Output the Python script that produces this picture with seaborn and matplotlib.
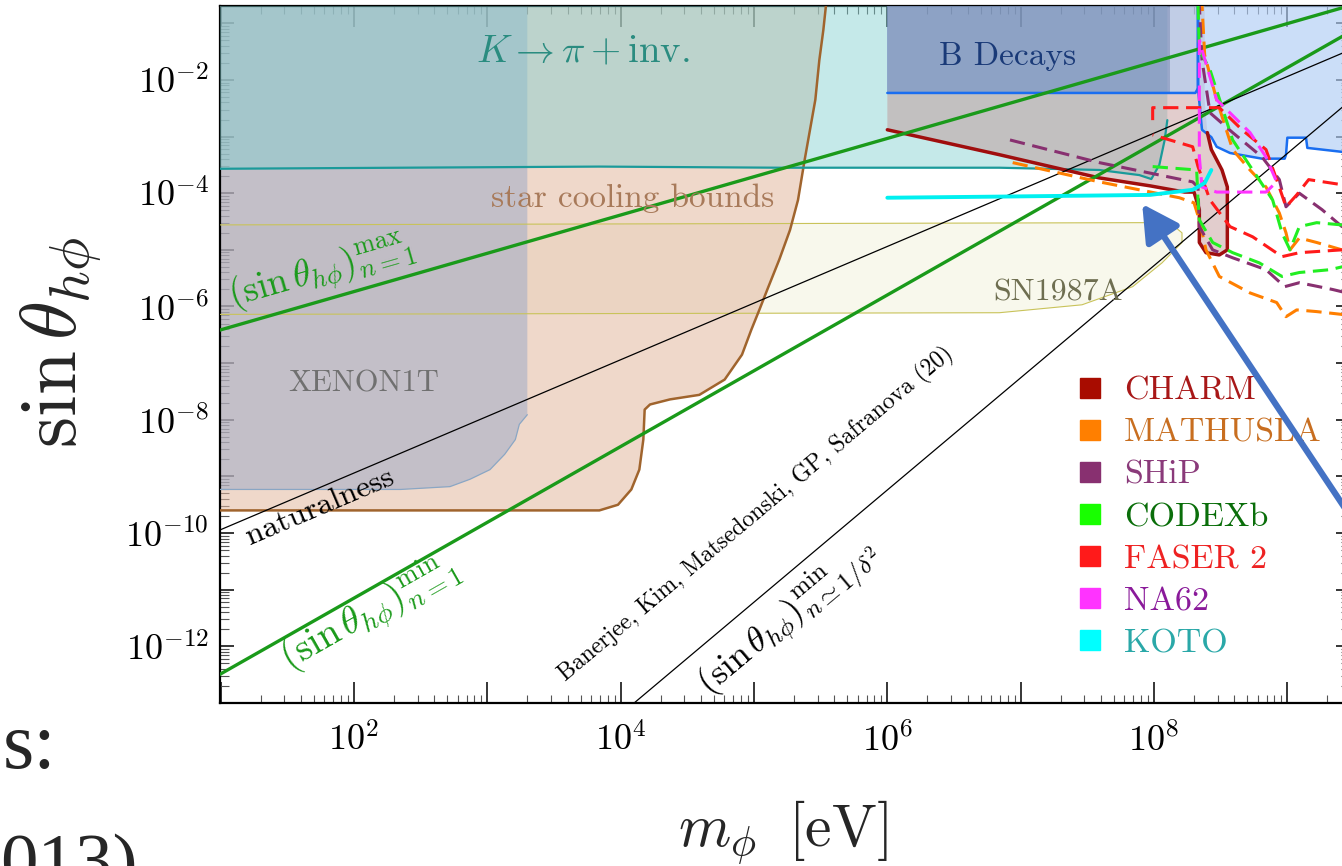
import numpy as np
import matplotlib
matplotlib.use("Agg")
import matplotlib.pyplot as plt
import seaborn as sns
from matplotlib.lines import Line2D
from matplotlib.ticker import LogLocator, FuncFormatter, NullFormatter

# all shapes are stored as log10(m_phi / eV), log10(sin theta)

# K -> pi + inv. (lower edge, then closed over the top)
kpi_lx = [0.9, 2.35, 3.84, 5.19, 6.0, 6.84, 7.59, 7.89, 7.98, 8.04, 8.08, 8.10, 8.10, 0.9]
kpi_ly = [-3.57, -3.55, -3.53, -3.55, -3.55, -3.55, -3.59, -3.68, -3.75, -3.50, -3.06, -2.71, 0, 0]

# XENON1T
xen_lx = [0.9, 2.35, 2.72, 2.87, 3.02, 3.13, 3.21, 3.24, 3.30, 3.30, 0.9]
xen_ly = [-9.23, -9.23, -9.18, -9.05, -8.88, -8.61, -8.35, -8.08, -7.91, 0, 0]

# star cooling bounds
star_lx = [0.9, 3.84, 3.98, 4.08, 4.14, 4.17, 4.18, 4.22, 4.37, 4.59, 4.78, 4.91, 4.98,
           5.04, 5.10, 5.19, 5.27, 5.33, 5.38, 5.42, 5.46, 5.49, 5.52, 5.54, 5.55, 0.9]
star_ly = [-9.60, -9.60, -9.50, -9.23, -8.88, -8.35, -7.82, -7.73, -7.64, -7.56, -7.29, -6.85, -6.41,
           -6.06, -5.70, -5.17, -4.65, -4.12, -3.41, -2.88, -2.35, -1.65, -1.12, -0.68, 0, 0]

# SN1987A
sn_lx = [0.9, 7.89, 8.12, 8.21, 8.21, 8.06, 7.84, 7.46, 6.84, 0.9]
sn_ly = [-4.56, -4.52, -4.52, -4.70, -4.87, -5.23, -5.65, -5.97, -6.11, -6.14]

# B decays
bdark_lx = [6.0, 8.12, 8.12, 6.0]
bdark_ly = [-2.23, -2.23, 0, 0]
blight_lx = [8.12, 8.12, 8.33, 8.36, 8.43, 8.47, 8.57, 8.81, 8.98, 8.99, 9.00, 9.14, 9.15, 9.41, 9.6, 9.6]
blight_ly = [0, -2.23, -2.23, -2.88, -3.01, -3.18, -3.29, -3.39, -3.39, -3.32, -3.02, -3.02, -3.20, -3.27, -3.27, 0]
bline_lx = [6.0, 8.31, 8.33, 8.33, 8.33, 8.36, 8.43, 8.47, 8.57, 8.81, 8.98, 8.99, 9.00, 9.14, 9.15, 9.41, 9.6]
bline_ly = [-2.23, -2.23, -2.15, 0, -2.15, -2.88, -3.01, -3.18, -3.29, -3.39, -3.39, -3.32, -3.02, -3.02, -3.20, -3.27, -3.27]

# CHARM
charm_lx = [6.0, 6.84, 7.59, 7.97, 8.23, 8.30, 8.34, 8.34, 8.39, 8.49, 8.55, 8.55, 8.51, 8.43, 8.40, 8.38, 8.38, 6.0]
charm_ly = [-2.88, -3.32, -3.73, -3.87, -3.98, -3.98, -4.29, -4.87, -5.05, -5.09, -5.00, -3.89, -3.59, -3.23, -2.93, -2.35, 0, 0]

# KOTO
koto_lx = [6.0, 6.84, 7.97, 8.29, 8.38, 8.43]
koto_ly = [-4.08, -4.06, -4.03, -3.94, -3.82, -3.59]

# projected reach (dashed)
math_lx = [6.94, 7.59, 8.19, 8.30, 8.34, 8.39, 8.49, 8.72, 8.92, 8.99, 9.07, 9.22, 9.41, 9.6, 9.6,
           9.41, 9.22, 9.09, 9.02, 8.99, 8.94, 8.84, 8.72, 8.59, 8.47, 8.38, 8.36]
math_ly = [-3.46, -3.80, -4.08, -4.17, -4.47, -5.00, -5.47, -5.76, -5.93, -6.18, -6.06, -6.09, -6.14, -6.14, -5.00,
           -5.00, -4.87, -4.79, -5.00, -4.70, -4.35, -3.89, -3.59, -3.23, -2.35, -1.56, -0.68]
ship_lx = [6.92, 7.59, 8.29, 8.33, 8.34, 8.44, 8.59, 8.84, 8.98, 9.09, 9.34, 9.41, 9.6, 9.6,
           9.41, 9.26, 9.09, 8.99, 8.94, 8.81, 8.59, 8.42, 8.36, 8.34]
ship_ly = [-3.06, -3.46, -3.80, -3.89, -4.59, -5.00, -5.14, -5.35, -5.65, -5.58, -5.70, -5.74, -5.74, -4.59,
           -4.59, -4.29, -4.00, -4.24, -3.76, -3.36, -2.93, -2.58, -1.65, -0.68]
codex_lx = [7.99, 8.32, 8.33, 8.34, 8.44, 8.59, 8.79, 8.96, 9.09, 9.32, 9.41, 9.6, 9.6,
            9.41, 9.22, 9.09, 9.02, 8.96, 8.89, 8.59, 8.42, 8.34, 8.33]
codex_ly = [-3.53, -3.59, -4.12, -4.47, -4.87, -5.05, -5.23, -5.47, -5.40, -5.35, -5.30, -5.30, -4.56,
            -4.56, -4.52, -4.59, -5.00, -4.70, -4.12, -3.06, -1.82, -1.47, -0.68]
faser_lx = [7.99, 7.99, 8.49, 8.66, 8.84, 8.92, 8.99, 9.07, 9.16, 9.41, 9.6, 9.6,
            9.41, 9.09, 8.96, 8.74, 8.57, 8.42, 8.33, 8.29, 7.99]
faser_ly = [-2.71, -2.49, -2.49, -2.88, -3.23, -3.76, -4.24, -4.03, -3.76, -3.85, -3.85, -5.00,
            -5.00, -5.05, -5.12, -4.77, -4.59, -4.12, -3.53, -3.18, -2.97]
na62_lx = [8.34, 8.34, 8.36, 8.47, 8.84, 8.92, 8.84, 8.72, 8.47, 8.36, 8.34]
na62_ly = [-1.29, -3.36, -3.89, -3.98, -3.98, -3.80, -3.36, -2.93, -2.35, -1.47, -1.29]

# theory lines (end points)
maxn1_lx, maxn1_ly = [0.9, 9.6], [-6.48, -0.60]
minn1_lx, minn1_ly = [0.9, 9.6], [-12.62, -0.98]
nat_lx, nat_ly = [0.9, 9.6], [-10.04, -1.34]
delta_lx, delta_ly = [4.0, 9.6], [-13.2, -2.11]

leg_names = ["CHARM", "MATHUSLA", "SHiP", "CODEXb", "FASER 2", "NA62", "KOTO"]
leg_marker = ["#a80c00", "#ff7f00", "#883070", "#18ff00", "#ff1a1a", "#ff33ff", "#00ffff"]
leg_text = ["#a81818", "#c86e20", "#8a3a7a", "#0a6e0a", "#ee2222", "#8a1a9a", "#2aa8a8"]


def P(a):
    return 10.0 ** np.asarray(a, dtype=float)


sns.set_theme(style="ticks")
plt.rcParams["font.family"] = ["cmr10", "DejaVu Serif"]
plt.rcParams["mathtext.fontset"] = "cm"
plt.rcParams["axes.formatter.use_mathtext"] = True

fig = plt.figure(figsize=(13.42, 8.66), dpi=100)
ax = fig.add_axes([220 / 1342, 1 - 703 / 866, 1130 / 1342, 697 / 866])
ax.set_xscale("log")
ax.set_yscale("log")

# filled regions
ax.fill(P(sn_lx), P(sn_ly), fc="#f8f8ec", lw=0, zorder=0.5)
ax.fill(P(star_lx), P(star_ly), fc="#e2b8a0", alpha=0.55, lw=0, zorder=1)
ax.fill(P(xen_lx), P(xen_ly), fc="#98a8c8", alpha=0.5, lw=0, zorder=2)
ax.fill(P(kpi_lx), P(kpi_ly), fc="#7fcfcf", alpha=0.45, lw=0, zorder=3)
ax.fill(P(charm_lx), P(charm_ly), fc="#c09090", alpha=0.45, lw=0, zorder=3)
ax.fill(P(bdark_lx), P(bdark_ly), fc="#7092c8", alpha=0.64, lw=0, zorder=4)
ax.fill(P(blight_lx), P(blight_ly), fc="#b0cdf5", alpha=0.65, lw=0, zorder=4)

# boundaries
sns.lineplot(x=P(sn_lx + sn_lx[:1]), y=P(sn_ly + sn_ly[:1]), sort=False, estimator=None, color="#c9c35a", lw=0.8, ax=ax, zorder=5)
sns.lineplot(x=P(star_lx[:-2]), y=P(star_ly[:-2]), sort=False, estimator=None, color="#a0642d", lw=1.8, ax=ax, zorder=5)
sns.lineplot(x=P(xen_lx[:9]), y=P(xen_ly[:9]), sort=False, estimator=None, color="#8aa6c4", lw=0.9, ax=ax, zorder=5)
sns.lineplot(x=P(kpi_lx[:12]), y=P(kpi_ly[:12]), sort=False, estimator=None, color="#1a9a9a", lw=1.6, ax=ax, zorder=5)
sns.lineplot(x=P(bline_lx), y=P(bline_ly), sort=False, estimator=None, color="#1a6ef0", lw=1.8, ax=ax, zorder=6)
sns.lineplot(x=P(charm_lx[:15]), y=P(charm_ly[:15]), sort=False, estimator=None, color="#a00e0e", lw=2.5, ax=ax, zorder=6)

# theory lines
for lx, ly, c, w in [(maxn1_lx, maxn1_ly, "#1a9a1a", 2.4), (minn1_lx, minn1_ly, "#1a9a1a", 2.4),
                     (nat_lx, nat_ly, "black", 0.9), (delta_lx, delta_ly, "black", 0.9)]:
    sns.lineplot(x=P(lx), y=P(ly), sort=False, estimator=None, color=c, lw=w, ax=ax, zorder=7)

# dashed sensitivity curves
dash = (0, (5, 2.5))
for lx, ly, c in [(math_lx, math_ly, "#ff7f00"), (ship_lx, ship_ly, "#883070"),
                  (codex_lx, codex_ly, "#22ee22"), (faser_lx, faser_ly, "#ff1a1a"),
                  (na62_lx, na62_ly, "#ff33ff")]:
    ax.plot(P(lx), P(ly), color=c, lw=2.2, linestyle=dash, zorder=8)

sns.lineplot(x=P(koto_lx), y=P(koto_ly), sort=False, estimator=None, color="#00f0f0", lw=2.8, ax=ax, zorder=9)

# arrow
ax.annotate("", xy=(10**7.90, 10**-4.15), xytext=(10**9.84, 10**-11.0),
            arrowprops=dict(arrowstyle="-|>,head_length=1.1,head_width=0.6", mutation_scale=20,
                            color="#4472c4", lw=4.5), annotation_clip=False, zorder=10)

# labels on the plot
ax.text(10**3.72, 10**-1.51, r"$K \rightarrow \pi + \mathrm{inv.}$", color="#2a8c80", fontsize=28, ha="center", va="center", zorder=11)
ax.text(10**6.90, 10**-1.59, "B Decays", color="#1a3a78", fontsize=24, ha="center", va="center", zorder=11)
ax.text(10**4.09, 10**-4.08, "star cooling bounds", color="#a87a5a", fontsize=24, ha="center", va="center", zorder=11)
ax.text(10**7.28, 10**-5.76, "SN1987A", color="#6e6e50", fontsize=23, ha="center", va="center", zorder=11)
ax.text(10**2.07, 10**-7.36, "XENON1T", color="#707070", fontsize=22, ha="center", va="center", zorder=11)
ax.text(10**1.745, 10**-9.53, "naturalness", color="black", fontsize=23, rotation=23,
        ha="center", va="center", rotation_mode="anchor", zorder=11)
ax.text(10**1.76, 10**-5.40, r"$(\sin\theta_{h\phi})^{\rm max}_{n=1}$", color="#1a9a1a", fontsize=27,
        rotation=16, ha="center", va="center", rotation_mode="anchor", zorder=11)
ax.text(10**2.12, 10**-11.40, r"$(\sin\theta_{h\phi})^{\rm min}_{n=1}$", color="#1a9a1a", fontsize=28,
        rotation=29.6, ha="center", va="center", rotation_mode="anchor", zorder=11)
ax.text(10**5.02, 10**-9.67, "Banerjee, Kim, Matsedonski, GP, Safranova (20)", color="black", fontsize=17,
        rotation=40, ha="center", va="center", rotation_mode="anchor", zorder=11)
ax.text(10**5.25, 10**-11.50, r"$(\sin\theta_{h\phi})^{\rm min}_{n\simeq 1/\delta^2}$", color="black", fontsize=26,
        rotation=40, ha="center", va="center", rotation_mode="anchor", zorder=11)

# axes
ax.set_xlim(10**0.995, 10**9.47)
ax.set_ylim(10**-13.0, 10**-0.695)


def even_decades(v, pos):
    e = int(round(np.log10(v)))
    return r"$10^{%d}$" % e if e % 2 == 0 else ""


for axis in (ax.xaxis, ax.yaxis):
    axis.set_major_locator(LogLocator(base=10, numticks=40))
    axis.set_minor_locator(LogLocator(base=10, subs=np.arange(2, 10) * 1.0, numticks=200))
    axis.set_major_formatter(FuncFormatter(even_decades))
    axis.set_minor_formatter(NullFormatter())

ax.tick_params(which="both", direction="in", top=True, right=True, labelsize=26, colors="black")
ax.tick_params(axis="x", which="major", length=15, width=1.1, pad=14)
ax.tick_params(axis="x", which="minor", length=6, width=0.8, color="#555555")
ax.tick_params(axis="y", which="major", length=10, width=1.1, pad=8)
ax.tick_params(axis="y", which="minor", length=6.5, width=0.8, color="#555555")
for s in ax.spines.values():
    s.set_color("black")
    s.set_linewidth(1.6)

fig.text(62 / 1342, 1 - 342 / 866, r"$\sin\theta_{h\phi}$", rotation=90, fontsize=57, ha="center", va="center")
fig.text(783 / 1342, 1 - 832 / 866, r"$m_{\phi}\;\;[\mathrm{eV}]$", fontsize=43, ha="center", va="center")

# legend
handles = [Line2D([], [], marker="s", ls="none", ms=15, mfc=c, mec=c) for c in leg_marker]
ax.legend(handles, leg_names, loc="upper left", bbox_to_anchor=(1076 / 1342, 1 - 376 / 866),
          bbox_transform=fig.transFigure, frameon=False, fontsize=24.5, labelcolor=leg_text,
          handlelength=0.8, handletextpad=0.6, labelspacing=0.36, borderpad=0, borderaxespad=0)

# pieces of the slide around the figure
fig.text(0.002, 1 - 768 / 866, "s:", family=["Liberation Serif", "DejaVu Serif"], fontsize=58, va="baseline", ha="left")
fig.text(0.0, 1 - 885 / 866, "013)", family=["Liberation Serif", "DejaVu Serif"], fontsize=54, va="baseline", ha="left")

fig.savefig("out.png", dpi=100)
